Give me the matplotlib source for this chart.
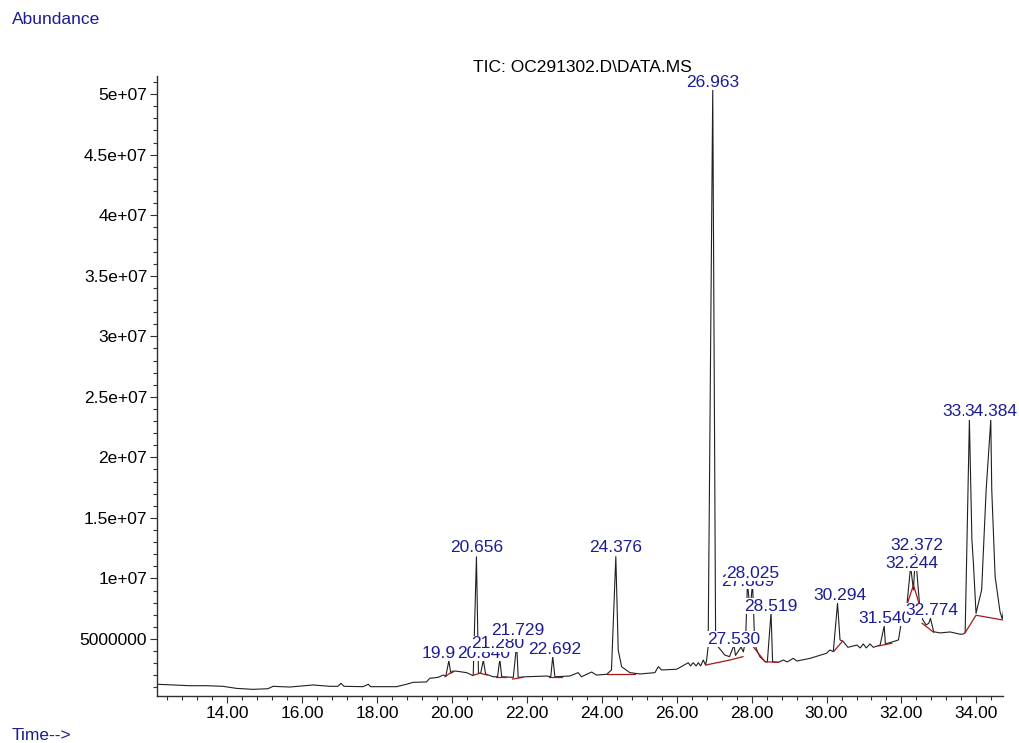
import matplotlib
matplotlib.use("Agg")
import numpy as np
import matplotlib.pyplot as plt
from matplotlib.ticker import MultipleLocator, FixedLocator, FixedFormatter

plt.rcParams['font.family'] = ['Liberation Sans', 'DejaVu Sans']

# ==========================================
# TIC trace (retention time in min, abundance in millions)
# ==========================================
rt_min = [12.13, 12.56, 13.00, 13.45, 13.89, 14.25, 14.69, 15.09, 15.23, 15.67,
          16.30, 16.74, 16.96, 17.04, 17.12, 17.63, 17.77, 17.83, 18.52, 18.79,
          18.97, 19.32, 19.41, 19.63, 19.77, 19.84, 19.92, 19.97, 20.08, 20.39,
          20.57, 20.656, 20.71, 20.77, 20.84, 20.90, 21.10, 21.22, 21.28, 21.33,
          21.64, 21.729, 21.77, 21.99, 22.53, 22.64, 22.692, 22.75, 23.15, 23.37,
          23.46, 23.73, 23.86, 24.13, 24.26, 24.376, 24.44, 24.53, 24.75, 25.02,
          25.42, 25.51, 25.60, 26.00, 26.31, 26.37, 26.44, 26.52, 26.58, 26.64,
          26.71, 26.77, 26.80, 26.84, 26.963, 27.04, 27.14, 27.28, 27.41, 27.53,
          27.57, 27.72, 27.78, 27.84, 27.889, 27.96, 28.025, 28.08, 28.12, 28.22,
          28.36, 28.42, 28.519, 28.56, 28.71, 28.85, 28.95, 29.11, 29.21, 29.56,
          30.00, 30.09, 30.18, 30.294, 30.36, 30.45, 30.57, 30.81, 30.90, 30.98,
          31.06, 31.16, 31.25, 31.43, 31.54, 31.57, 31.78, 31.92, 31.98, 32.07,
          32.15, 32.244, 32.32, 32.372, 32.48, 32.57, 32.66, 32.73, 32.774, 32.86,
          33.03, 33.30, 33.57, 33.65, 33.70, 33.813, 33.88, 33.92, 33.99, 34.14,
          34.26, 34.384, 34.41, 34.50, 34.63, 34.69, 34.73]
abund_m = [1.26, 1.20, 1.14, 1.14, 1.09, 0.92, 0.84, 0.89, 1.09, 1.03,
           1.20, 1.09, 1.09, 1.34, 1.09, 1.06, 1.26, 1.06, 1.06, 1.26,
           1.42, 1.45, 1.75, 1.83, 2.02, 1.94, 3.21, 2.17, 2.36, 2.22,
           1.97, 11.78, 2.17, 2.17, 3.26, 2.11, 1.88, 1.88, 3.35, 1.88,
           1.83, 4.60, 1.83, 1.88, 1.94, 1.88, 3.54, 1.88, 1.94, 2.22,
           1.88, 2.27, 2.02, 2.08, 2.44, 11.80, 4.09, 2.71, 2.22, 2.11,
           2.22, 2.71, 2.44, 2.50, 3.04, 2.77, 3.04, 2.77, 3.04, 2.77,
           3.26, 2.85, 3.26, 4.37, 50.40, 4.60, 4.23, 3.68, 3.54, 4.50,
           3.64, 4.34, 3.93, 4.92, 9.60, 7.40, 9.60, 4.92, 4.23, 3.54,
           3.12, 3.10, 7.20, 3.12, 3.07, 3.26, 3.10, 3.40, 3.18, 3.40,
           3.82, 4.09, 3.95, 7.95, 4.92, 4.78, 4.31, 4.50, 4.26, 4.59,
           4.26, 4.59, 4.31, 4.50, 6.07, 4.59, 4.78, 4.92, 6.07, 6.84,
           7.95, 11.00, 9.05, 12.00, 7.95, 6.57, 6.16, 6.30, 6.70, 5.60,
           5.50, 5.58, 5.39, 5.41, 5.52, 23.10, 13.20, 11.26, 7.12, 9.05,
           17.30, 23.10, 17.30, 10.15, 7.26, 6.65, 7.48]

# integrated peaks
peak_names = ['19.920', '20.656', '20.840', '21.280', '21.729', '22.692', '24.376',
              '26.963', '27.530', '27.889', '28.025', '28.519', '30.294', '31.540',
              '32.244', '32.372', '32.774', '33.813', '34.384']
peak_rt = [19.92, 20.656, 20.84, 21.28, 21.729, 22.692, 24.376,
           26.963, 27.53, 27.889, 28.025, 28.519, 30.294, 31.54,
           32.244, 32.372, 32.774, 33.813, 34.384]
peak_apex_m = [3.21, 11.78, 3.26, 3.35, 4.60, 3.54, 11.80,
               50.40, 4.50, 9.60, 9.60, 7.20, 7.95, 6.07,
               11.00, 12.00, 6.70, 23.10, 23.10]

# integration baselines (rt, abundance in millions)
baselines = [
    [(19.82, 1.88), (20.03, 2.36)],
    [(20.59, 2.02), (20.75, 2.17), (20.94, 2.02)],
    [(21.19, 1.83), (21.44, 1.83)],
    [(21.62, 1.69), (21.90, 1.83)],
    [(22.60, 1.83), (22.93, 1.83)],
    [(24.13, 2.08), (24.89, 2.08)],
    [(26.78, 2.85), (27.42, 3.26), (27.77, 3.54)],
    [(28.04, 4.37), (28.36, 3.12), (28.71, 3.07)],
    [(30.20, 4.00), (30.43, 4.83)],
    [(31.38, 4.42), (31.74, 4.64)],
    [(32.16, 7.95), (32.32, 9.46), (32.46, 8.03)],
    [(32.55, 6.30), (32.86, 5.55)],
    [(33.70, 5.52), (33.99, 6.96), (34.70, 6.57)],
]

ytick_vals = [5e6, 1e7, 1.5e7, 2e7, 2.5e7, 3e7, 3.5e7, 4e7, 4.5e7, 5e7]
ytick_labels = ['5000000', '1e+07', '1.5e+07', '2e+07', '2.5e+07',
                '3e+07', '3.5e+07', '4e+07', '4.5e+07', '5e+07']

# label lift above apex (pixels) and small horizontal nudges
label_lift = [7, 9, 7, 15, 13, 7, 9, 7, 6, 2, 10, 6, 8, 8, 3, 9, 8, 8, 8]
label_dx = [-1, 0, 0, -2, 1, 2, 0, 0, 0, 0, 0, 0, 2, 1, 1, 1, 1, 0, 0]

NAVY = '#1c1c94'
RED = '#a81818'

fig = plt.figure(figsize=(10.2, 7.43), dpi=100)
ax = fig.add_axes([157 / 1020, 47 / 743, 846 / 1020, 620 / 743])

t = np.array(rt_min)
y = np.array(abund_m) * 1e6
ax.plot(t, y, color='#202020', lw=0.8, zorder=2)

for seg in baselines:
    bt, bv = zip(*seg)
    ax.plot(bt, np.array(bv) * 1e6, color=RED, lw=0.9, zorder=3)

for i, name in enumerate(peak_names):
    ax.annotate(name, xy=(peak_rt[i], peak_apex_m[i] * 1e6),
                xytext=(label_dx[i], label_lift[i]), textcoords='offset pixels',
                ha='center', va='center', fontsize=12.5, color=NAVY, zorder=5,
                bbox=dict(boxstyle='square,pad=0.02', fc='white', ec='none'),
                annotation_clip=False)

ax.set_xlim(12.13, 34.71)
ax.set_ylim(0.29e6, 51.5e6)

ax.xaxis.set_major_locator(MultipleLocator(2))
ax.xaxis.set_minor_locator(MultipleLocator(0.4))
ax.xaxis.set_major_formatter(plt.FuncFormatter(lambda v, p: f"{v:.2f}"))
ax.yaxis.set_major_locator(FixedLocator(ytick_vals))
ax.yaxis.set_major_formatter(FixedFormatter(ytick_labels))
ax.yaxis.set_minor_locator(MultipleLocator(1e6))

ax.tick_params(axis='both', which='major', length=5, width=0.8, labelsize=12.5,
               colors='#303030', labelcolor='black', pad=2)
ax.tick_params(axis='both', which='minor', length=3, width=0.8, colors='#303030')

for side in ['top', 'right']:
    ax.spines[side].set_visible(False)
for side in ['left', 'bottom']:
    ax.spines[side].set_color('#303030')
    ax.spines[side].set_linewidth(1.0)

fig.text(582 / 1020, 1 - 67 / 743, 'TIC: OC291302.D\\DATA.MS', ha='center', va='center',
         fontsize=12.5, color='black')
fig.text(12 / 1020, 1 - 20 / 743, 'Abundance', ha='left', va='center', fontsize=12.5, color=NAVY)
fig.text(12 / 1020, 1 - 735 / 743, 'Time-->', ha='left', va='center', fontsize=12.5, color=NAVY)

plt.savefig('out.png', dpi=100)
